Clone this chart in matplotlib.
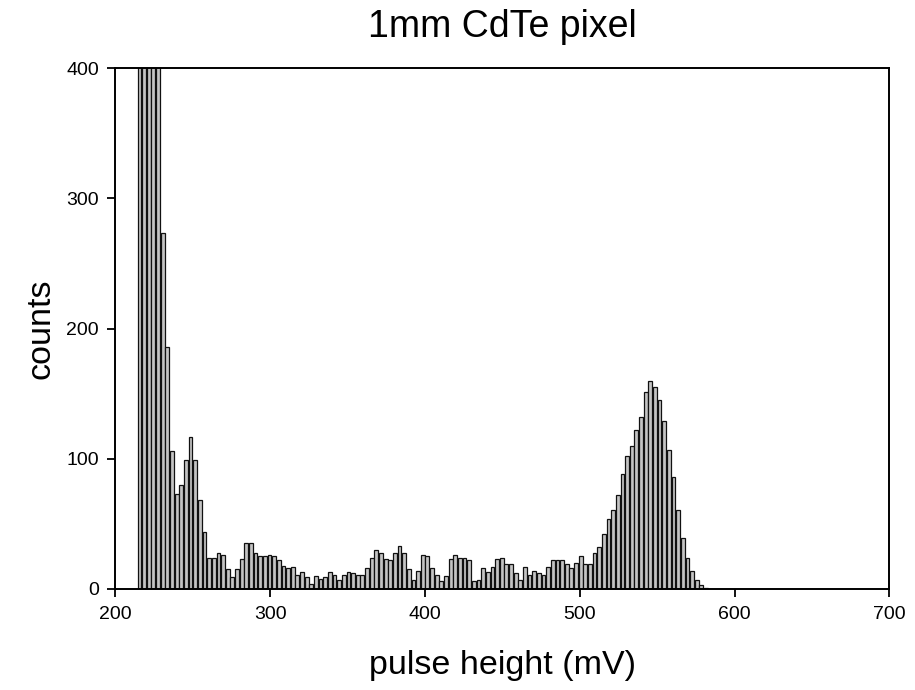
import numpy as np
import matplotlib
matplotlib.use("Agg")
import matplotlib.pyplot as plt

plt.rcParams['font.family'] = ['Liberation Sans', 'DejaVu Sans']

# Histogram data (3 mV bins starting at 214 mV).
# The first five bins run off the top of the plot (> 400 counts).
bin_start = 214.0
bin_width = 3.0
counts = [
    1450, 1100, 820, 600, 430,
    273, 186, 106, 73, 80, 99, 117, 99, 68, 44,
    24, 24, 28, 26, 15, 9, 15, 23, 35, 35,
    28, 25, 25, 26, 25, 22, 18, 16, 17, 11,
    13, 9, 4, 10, 8, 9, 13, 11, 7, 11,
    13, 12, 11, 11, 16, 24, 30, 28, 23, 22,
    28, 33, 28, 15, 7, 14, 26, 25, 16, 11,
    6, 10, 23, 26, 24, 24, 22, 6, 7, 16,
    13, 17, 23, 24, 19, 19, 12, 7, 17, 11,
    14, 12, 11, 17, 22, 22, 22, 19, 16, 20,
    25, 19, 19, 28, 32, 42, 54, 61, 72, 88,
    102, 110, 122, 132, 151, 160, 155, 145, 129, 107,
    86, 61, 39, 24, 14, 7, 3, 1,
]
x_ticks = [200, 300, 400, 500, 600, 700]
y_ticks = [0, 100, 200, 300, 400]
title = "1mm CdTe pixel"
x_label = "pulse height (mV)"
y_label = "counts"

centers = bin_start + bin_width * (np.arange(len(counts)) + 0.5)

fig = plt.figure(figsize=(9.15, 6.9), dpi=100)
ax = fig.add_axes([0.1262, 0.1464, 0.8459, 0.755])

ax.bar(centers, counts, width=bin_width * 0.82, facecolor='#c4c4c4',
       edgecolor='#111111', linewidth=0.9)

ax.set_xlim(200, 700)
ax.set_ylim(0, 400)
ax.set_xticks(x_ticks)
ax.set_yticks(y_ticks)
ax.tick_params(axis='both', direction='out', length=6, width=1.3,
               labelsize=14, pad=6)
for s in ax.spines.values():
    s.set_linewidth(1.4)

ax.set_xlabel(x_label, fontsize=24.5, labelpad=20)
ax.set_ylabel(y_label, fontsize=24.5, labelpad=7)
ax.set_title(title, fontsize=27, pad=22)

fig.savefig("out.png", dpi=100)
